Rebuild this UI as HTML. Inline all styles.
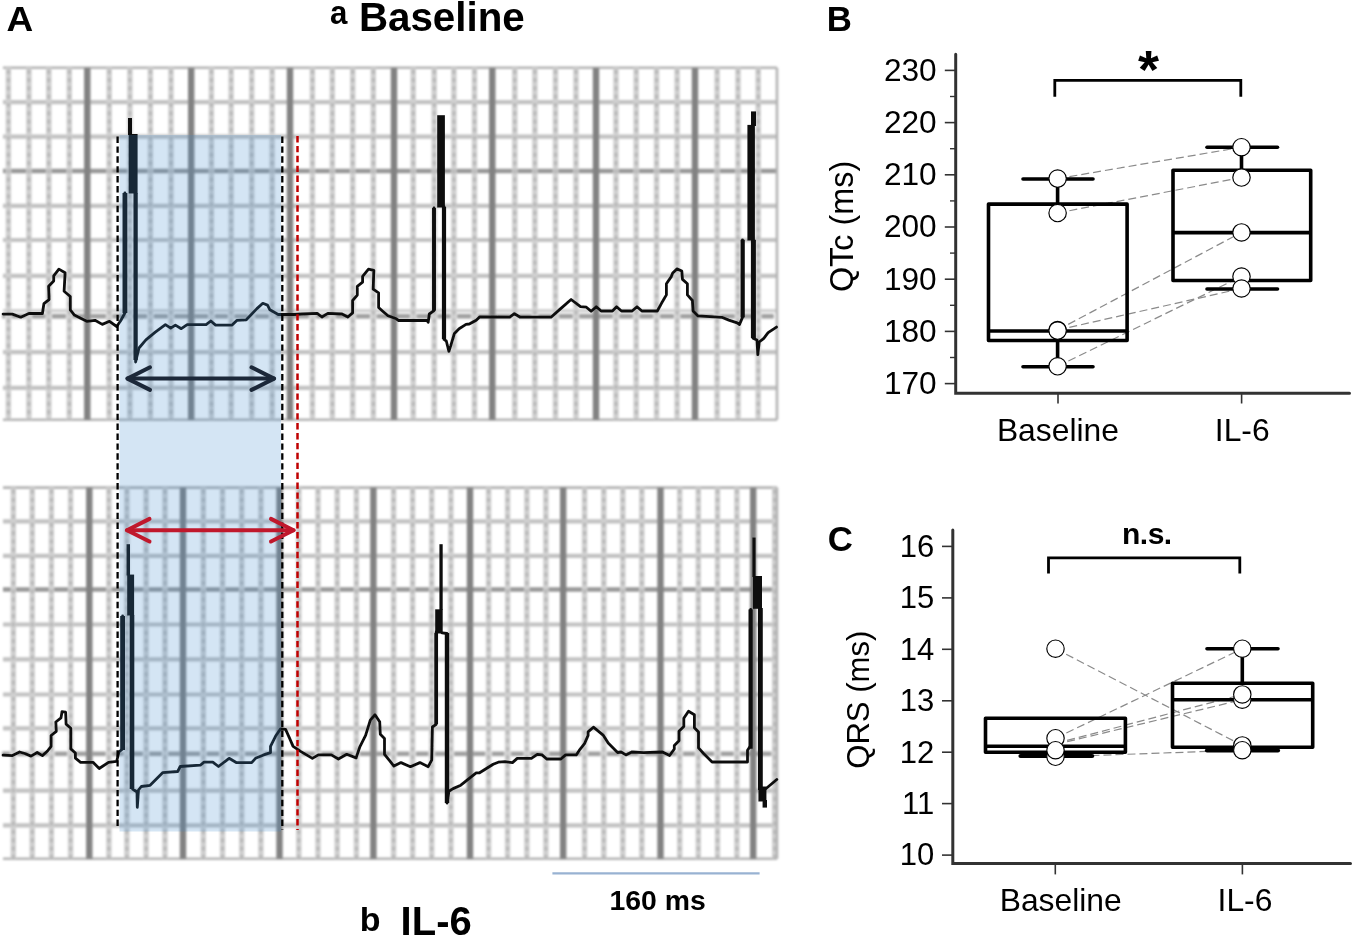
<!DOCTYPE html>
<html><head><meta charset="utf-8"><title>Figure</title><style>
html,body{margin:0;padding:0;background:#fff;}
body{width:1355px;height:938px;overflow:hidden;font-family:"Liberation Sans",sans-serif;}
svg{display:block;}
.gh{stroke:#c2c2c2;stroke-width:4.2;}
.ghl{stroke:#d2d2d2;stroke-width:3.6;}
.ghd{stroke:#989898;stroke-width:4.5;}
.gb{stroke:#a0a0a0;stroke-width:4.6;}
.ge{stroke:#b4b4b4;stroke-width:2.6;}
.gv{stroke:#d0d0d0;stroke-width:5.4;}
.gvd{stroke:#b9b9b9;stroke-width:3.4;stroke-dasharray:4.2 4.1;}
.gk{stroke:#828282;stroke-width:6.4;}
.tr{fill:none;stroke:#111;stroke-width:2.8;stroke-linejoin:round;stroke-linecap:round;}
</style></head>
<body>
<svg width="1355" height="938" viewBox="0 0 1355 938">
<defs><filter id="bl" x="-1%" y="-1%" width="102%" height="102%"><feGaussianBlur stdDeviation="1.3"/></filter>
<filter id="bl2" x="-1%" y="-1%" width="102%" height="102%"><feGaussianBlur stdDeviation="0.45"/></filter>
<filter id="sf" x="0" y="0" width="100%" height="100%" filterUnits="userSpaceOnUse"><feGaussianBlur stdDeviation="0.38"/></filter></defs>
<rect width="1355" height="938" fill="#fff"/>
<g filter="url(#bl)">
<line x1="3" y1="310.8" x2="777" y2="310.8" class="ghl"/>
<line x1="3" y1="102.1" x2="777" y2="102.1" class="gh"/>
<line x1="3" y1="136.6" x2="777" y2="136.6" class="gh"/>
<line x1="3" y1="205.9" x2="777" y2="205.9" class="gh"/>
<line x1="3" y1="240" x2="777" y2="240" class="gh"/>
<line x1="3" y1="275.8" x2="777" y2="275.8" class="gh"/>
<line x1="3" y1="352.2" x2="777" y2="352.2" class="gh"/>
<line x1="3" y1="387.8" x2="777" y2="387.8" class="gh"/>
<line x1="3" y1="171" x2="777" y2="171" class="ghd"/>
<line x1="2.2" y1="316.3" x2="5.2" y2="316.3" class="gb"/>
<line x1="11.6" y1="316.3" x2="25.7" y2="316.3" class="gb"/>
<line x1="32.1" y1="316.3" x2="45.6" y2="316.3" class="gb"/>
<line x1="52" y1="316.3" x2="66.1" y2="316.3" class="gb"/>
<line x1="72.5" y1="316.3" x2="84.1" y2="316.3" class="gb"/>
<line x1="90.5" y1="316.3" x2="106" y2="316.3" class="gb"/>
<line x1="112.4" y1="316.3" x2="126.7" y2="316.3" class="gb"/>
<line x1="133.1" y1="316.3" x2="147.2" y2="316.3" class="gb"/>
<line x1="153.6" y1="316.3" x2="167.8" y2="316.3" class="gb"/>
<line x1="174.2" y1="316.3" x2="188" y2="316.3" class="gb"/>
<line x1="194.4" y1="316.3" x2="208.2" y2="316.3" class="gb"/>
<line x1="214.6" y1="316.3" x2="227.9" y2="316.3" class="gb"/>
<line x1="234.3" y1="316.3" x2="248.5" y2="316.3" class="gb"/>
<line x1="254.9" y1="316.3" x2="268.9" y2="316.3" class="gb"/>
<line x1="275.3" y1="316.3" x2="286.8" y2="316.3" class="gb"/>
<line x1="293.2" y1="316.3" x2="309.2" y2="316.3" class="gb"/>
<line x1="315.6" y1="316.3" x2="329.1" y2="316.3" class="gb"/>
<line x1="335.5" y1="316.3" x2="349.5" y2="316.3" class="gb"/>
<line x1="355.9" y1="316.3" x2="370.1" y2="316.3" class="gb"/>
<line x1="376.5" y1="316.3" x2="390.8" y2="316.3" class="gb"/>
<line x1="397.2" y1="316.3" x2="410" y2="316.3" class="gb"/>
<line x1="416.4" y1="316.3" x2="431" y2="316.3" class="gb"/>
<line x1="437.4" y1="316.3" x2="450.7" y2="316.3" class="gb"/>
<line x1="457.1" y1="316.3" x2="471.3" y2="316.3" class="gb"/>
<line x1="477.7" y1="316.3" x2="489.1" y2="316.3" class="gb"/>
<line x1="495.5" y1="316.3" x2="511.6" y2="316.3" class="gb"/>
<line x1="518" y1="316.3" x2="531.7" y2="316.3" class="gb"/>
<line x1="538.1" y1="316.3" x2="552.3" y2="316.3" class="gb"/>
<line x1="558.7" y1="316.3" x2="572.8" y2="316.3" class="gb"/>
<line x1="579.2" y1="316.3" x2="592.8" y2="316.3" class="gb"/>
<line x1="599.2" y1="316.3" x2="612.8" y2="316.3" class="gb"/>
<line x1="619.2" y1="316.3" x2="633" y2="316.3" class="gb"/>
<line x1="639.4" y1="316.3" x2="653.4" y2="316.3" class="gb"/>
<line x1="659.8" y1="316.3" x2="673.9" y2="316.3" class="gb"/>
<line x1="680.3" y1="316.3" x2="691.8" y2="316.3" class="gb"/>
<line x1="698.2" y1="316.3" x2="713.9" y2="316.3" class="gb"/>
<line x1="720.3" y1="316.3" x2="734.8" y2="316.3" class="gb"/>
<line x1="741.2" y1="316.3" x2="755" y2="316.3" class="gb"/>
<line x1="761.4" y1="316.3" x2="773.8" y2="316.3" class="gb"/>
<line x1="3" y1="67.7" x2="777" y2="67.7" class="ge"/>
<line x1="3" y1="419.8" x2="777" y2="419.8" class="ge"/>
<line x1="8.4" y1="67.7" x2="8.4" y2="419.8" class="gv"/>
<line x1="8.4" y1="69.7" x2="8.4" y2="419.8" class="gvd"/>
<line x1="28.9" y1="67.7" x2="28.9" y2="419.8" class="gv"/>
<line x1="28.9" y1="69.7" x2="28.9" y2="419.8" class="gvd"/>
<line x1="48.8" y1="67.7" x2="48.8" y2="419.8" class="gv"/>
<line x1="48.8" y1="69.7" x2="48.8" y2="419.8" class="gvd"/>
<line x1="69.3" y1="67.7" x2="69.3" y2="419.8" class="gv"/>
<line x1="69.3" y1="69.7" x2="69.3" y2="419.8" class="gvd"/>
<line x1="109.2" y1="67.7" x2="109.2" y2="419.8" class="gv"/>
<line x1="109.2" y1="69.7" x2="109.2" y2="419.8" class="gvd"/>
<line x1="129.9" y1="67.7" x2="129.9" y2="419.8" class="gv"/>
<line x1="129.9" y1="69.7" x2="129.9" y2="419.8" class="gvd"/>
<line x1="150.4" y1="67.7" x2="150.4" y2="419.8" class="gv"/>
<line x1="150.4" y1="69.7" x2="150.4" y2="419.8" class="gvd"/>
<line x1="171" y1="67.7" x2="171" y2="419.8" class="gv"/>
<line x1="171" y1="69.7" x2="171" y2="419.8" class="gvd"/>
<line x1="211.4" y1="67.7" x2="211.4" y2="419.8" class="gv"/>
<line x1="211.4" y1="69.7" x2="211.4" y2="419.8" class="gvd"/>
<line x1="231.1" y1="67.7" x2="231.1" y2="419.8" class="gv"/>
<line x1="231.1" y1="69.7" x2="231.1" y2="419.8" class="gvd"/>
<line x1="251.7" y1="67.7" x2="251.7" y2="419.8" class="gv"/>
<line x1="251.7" y1="69.7" x2="251.7" y2="419.8" class="gvd"/>
<line x1="272.1" y1="67.7" x2="272.1" y2="419.8" class="gv"/>
<line x1="272.1" y1="69.7" x2="272.1" y2="419.8" class="gvd"/>
<line x1="312.4" y1="67.7" x2="312.4" y2="419.8" class="gv"/>
<line x1="312.4" y1="69.7" x2="312.4" y2="419.8" class="gvd"/>
<line x1="332.3" y1="67.7" x2="332.3" y2="419.8" class="gv"/>
<line x1="332.3" y1="69.7" x2="332.3" y2="419.8" class="gvd"/>
<line x1="352.7" y1="67.7" x2="352.7" y2="419.8" class="gv"/>
<line x1="352.7" y1="69.7" x2="352.7" y2="419.8" class="gvd"/>
<line x1="373.3" y1="67.7" x2="373.3" y2="419.8" class="gv"/>
<line x1="373.3" y1="69.7" x2="373.3" y2="419.8" class="gvd"/>
<line x1="413.2" y1="67.7" x2="413.2" y2="419.8" class="gv"/>
<line x1="413.2" y1="69.7" x2="413.2" y2="419.8" class="gvd"/>
<line x1="434.2" y1="67.7" x2="434.2" y2="419.8" class="gv"/>
<line x1="434.2" y1="69.7" x2="434.2" y2="419.8" class="gvd"/>
<line x1="453.9" y1="67.7" x2="453.9" y2="419.8" class="gv"/>
<line x1="453.9" y1="69.7" x2="453.9" y2="419.8" class="gvd"/>
<line x1="474.5" y1="67.7" x2="474.5" y2="419.8" class="gv"/>
<line x1="474.5" y1="69.7" x2="474.5" y2="419.8" class="gvd"/>
<line x1="514.8" y1="67.7" x2="514.8" y2="419.8" class="gv"/>
<line x1="514.8" y1="69.7" x2="514.8" y2="419.8" class="gvd"/>
<line x1="534.9" y1="67.7" x2="534.9" y2="419.8" class="gv"/>
<line x1="534.9" y1="69.7" x2="534.9" y2="419.8" class="gvd"/>
<line x1="555.5" y1="67.7" x2="555.5" y2="419.8" class="gv"/>
<line x1="555.5" y1="69.7" x2="555.5" y2="419.8" class="gvd"/>
<line x1="576" y1="67.7" x2="576" y2="419.8" class="gv"/>
<line x1="576" y1="69.7" x2="576" y2="419.8" class="gvd"/>
<line x1="616" y1="67.7" x2="616" y2="419.8" class="gv"/>
<line x1="616" y1="69.7" x2="616" y2="419.8" class="gvd"/>
<line x1="636.2" y1="67.7" x2="636.2" y2="419.8" class="gv"/>
<line x1="636.2" y1="69.7" x2="636.2" y2="419.8" class="gvd"/>
<line x1="656.6" y1="67.7" x2="656.6" y2="419.8" class="gv"/>
<line x1="656.6" y1="69.7" x2="656.6" y2="419.8" class="gvd"/>
<line x1="677.1" y1="67.7" x2="677.1" y2="419.8" class="gv"/>
<line x1="677.1" y1="69.7" x2="677.1" y2="419.8" class="gvd"/>
<line x1="717.1" y1="67.7" x2="717.1" y2="419.8" class="gv"/>
<line x1="717.1" y1="69.7" x2="717.1" y2="419.8" class="gvd"/>
<line x1="738" y1="67.7" x2="738" y2="419.8" class="gv"/>
<line x1="738" y1="69.7" x2="738" y2="419.8" class="gvd"/>
<line x1="758.2" y1="67.7" x2="758.2" y2="419.8" class="gv"/>
<line x1="758.2" y1="69.7" x2="758.2" y2="419.8" class="gvd"/>
<line x1="87.3" y1="67.7" x2="87.3" y2="419.8" class="gk"/>
<line x1="191.2" y1="67.7" x2="191.2" y2="419.8" class="gk"/>
<line x1="290" y1="67.7" x2="290" y2="419.8" class="gk"/>
<line x1="394" y1="67.7" x2="394" y2="419.8" class="gk"/>
<line x1="492.3" y1="67.7" x2="492.3" y2="419.8" class="gk"/>
<line x1="596" y1="67.7" x2="596" y2="419.8" class="gk"/>
<line x1="695" y1="67.7" x2="695" y2="419.8" class="gk"/>
<line x1="777" y1="67.7" x2="777" y2="419.8" class="ge"/>
<line x1="3" y1="521.3" x2="777" y2="521.3" class="gh"/>
<line x1="3" y1="555.8" x2="777" y2="555.8" class="gh"/>
<line x1="3" y1="624.5" x2="777" y2="624.5" class="gh"/>
<line x1="3" y1="659.4" x2="777" y2="659.4" class="gh"/>
<line x1="3" y1="694.5" x2="777" y2="694.5" class="gh"/>
<line x1="3" y1="728.4" x2="777" y2="728.4" class="gh"/>
<line x1="3" y1="790.7" x2="777" y2="790.7" class="gh"/>
<line x1="3" y1="825.4" x2="777" y2="825.4" class="gh"/>
<line x1="3" y1="589.4" x2="777" y2="589.4" class="ghd"/>
<line x1="2.2" y1="753.8" x2="10.1" y2="753.8" class="gb"/>
<line x1="16.5" y1="753.8" x2="29" y2="753.8" class="gb"/>
<line x1="35.4" y1="753.8" x2="48.2" y2="753.8" class="gb"/>
<line x1="54.6" y1="753.8" x2="67.4" y2="753.8" class="gb"/>
<line x1="73.8" y1="753.8" x2="86.1" y2="753.8" class="gb"/>
<line x1="92.5" y1="753.8" x2="105.7" y2="753.8" class="gb"/>
<line x1="112.1" y1="753.8" x2="123.7" y2="753.8" class="gb"/>
<line x1="130.1" y1="753.8" x2="142.9" y2="753.8" class="gb"/>
<line x1="149.3" y1="753.8" x2="161.8" y2="753.8" class="gb"/>
<line x1="168.2" y1="753.8" x2="179.8" y2="753.8" class="gb"/>
<line x1="186.2" y1="753.8" x2="200.1" y2="753.8" class="gb"/>
<line x1="206.5" y1="753.8" x2="219.3" y2="753.8" class="gb"/>
<line x1="225.7" y1="753.8" x2="238.5" y2="753.8" class="gb"/>
<line x1="244.9" y1="753.8" x2="257.7" y2="753.8" class="gb"/>
<line x1="264.1" y1="753.8" x2="276.3" y2="753.8" class="gb"/>
<line x1="282.7" y1="753.8" x2="295.6" y2="753.8" class="gb"/>
<line x1="302" y1="753.8" x2="314.8" y2="753.8" class="gb"/>
<line x1="321.2" y1="753.8" x2="334" y2="753.8" class="gb"/>
<line x1="340.4" y1="753.8" x2="353.2" y2="753.8" class="gb"/>
<line x1="359.6" y1="753.8" x2="370.2" y2="753.8" class="gb"/>
<line x1="376.6" y1="753.8" x2="390.4" y2="753.8" class="gb"/>
<line x1="396.8" y1="753.8" x2="409.4" y2="753.8" class="gb"/>
<line x1="415.8" y1="753.8" x2="428.5" y2="753.8" class="gb"/>
<line x1="434.9" y1="753.8" x2="447.7" y2="753.8" class="gb"/>
<line x1="454.1" y1="753.8" x2="466.8" y2="753.8" class="gb"/>
<line x1="473.2" y1="753.8" x2="485.4" y2="753.8" class="gb"/>
<line x1="491.8" y1="753.8" x2="504.4" y2="753.8" class="gb"/>
<line x1="510.8" y1="753.8" x2="523.7" y2="753.8" class="gb"/>
<line x1="530.1" y1="753.8" x2="542.7" y2="753.8" class="gb"/>
<line x1="549.1" y1="753.8" x2="560" y2="753.8" class="gb"/>
<line x1="566.4" y1="753.8" x2="581.4" y2="753.8" class="gb"/>
<line x1="587.8" y1="753.8" x2="600.6" y2="753.8" class="gb"/>
<line x1="607" y1="753.8" x2="619.6" y2="753.8" class="gb"/>
<line x1="626" y1="753.8" x2="638.6" y2="753.8" class="gb"/>
<line x1="645" y1="753.8" x2="657.3" y2="753.8" class="gb"/>
<line x1="663.7" y1="753.8" x2="676.5" y2="753.8" class="gb"/>
<line x1="682.9" y1="753.8" x2="695.1" y2="753.8" class="gb"/>
<line x1="701.5" y1="753.8" x2="714.3" y2="753.8" class="gb"/>
<line x1="720.7" y1="753.8" x2="733.7" y2="753.8" class="gb"/>
<line x1="740.1" y1="753.8" x2="750" y2="753.8" class="gb"/>
<line x1="756.4" y1="753.8" x2="771.5" y2="753.8" class="gb"/>
<line x1="777.9" y1="753.8" x2="773.8" y2="753.8" class="gb"/>
<line x1="3" y1="487.6" x2="777" y2="487.6" class="ge"/>
<line x1="3" y1="858.8" x2="777" y2="858.8" class="ge"/>
<line x1="13.3" y1="487.6" x2="13.3" y2="858.8" class="gv"/>
<line x1="13.3" y1="489.6" x2="13.3" y2="858.8" class="gvd"/>
<line x1="32.2" y1="487.6" x2="32.2" y2="858.8" class="gv"/>
<line x1="32.2" y1="489.6" x2="32.2" y2="858.8" class="gvd"/>
<line x1="51.4" y1="487.6" x2="51.4" y2="858.8" class="gv"/>
<line x1="51.4" y1="489.6" x2="51.4" y2="858.8" class="gvd"/>
<line x1="70.6" y1="487.6" x2="70.6" y2="858.8" class="gv"/>
<line x1="70.6" y1="489.6" x2="70.6" y2="858.8" class="gvd"/>
<line x1="108.9" y1="487.6" x2="108.9" y2="858.8" class="gv"/>
<line x1="108.9" y1="489.6" x2="108.9" y2="858.8" class="gvd"/>
<line x1="126.9" y1="487.6" x2="126.9" y2="858.8" class="gv"/>
<line x1="126.9" y1="489.6" x2="126.9" y2="858.8" class="gvd"/>
<line x1="146.1" y1="487.6" x2="146.1" y2="858.8" class="gv"/>
<line x1="146.1" y1="489.6" x2="146.1" y2="858.8" class="gvd"/>
<line x1="165" y1="487.6" x2="165" y2="858.8" class="gv"/>
<line x1="165" y1="489.6" x2="165" y2="858.8" class="gvd"/>
<line x1="203.3" y1="487.6" x2="203.3" y2="858.8" class="gv"/>
<line x1="203.3" y1="489.6" x2="203.3" y2="858.8" class="gvd"/>
<line x1="222.5" y1="487.6" x2="222.5" y2="858.8" class="gv"/>
<line x1="222.5" y1="489.6" x2="222.5" y2="858.8" class="gvd"/>
<line x1="241.7" y1="487.6" x2="241.7" y2="858.8" class="gv"/>
<line x1="241.7" y1="489.6" x2="241.7" y2="858.8" class="gvd"/>
<line x1="260.9" y1="487.6" x2="260.9" y2="858.8" class="gv"/>
<line x1="260.9" y1="489.6" x2="260.9" y2="858.8" class="gvd"/>
<line x1="298.8" y1="487.6" x2="298.8" y2="858.8" class="gv"/>
<line x1="298.8" y1="489.6" x2="298.8" y2="858.8" class="gvd"/>
<line x1="318" y1="487.6" x2="318" y2="858.8" class="gv"/>
<line x1="318" y1="489.6" x2="318" y2="858.8" class="gvd"/>
<line x1="337.2" y1="487.6" x2="337.2" y2="858.8" class="gv"/>
<line x1="337.2" y1="489.6" x2="337.2" y2="858.8" class="gvd"/>
<line x1="356.4" y1="487.6" x2="356.4" y2="858.8" class="gv"/>
<line x1="356.4" y1="489.6" x2="356.4" y2="858.8" class="gvd"/>
<line x1="393.6" y1="487.6" x2="393.6" y2="858.8" class="gv"/>
<line x1="393.6" y1="489.6" x2="393.6" y2="858.8" class="gvd"/>
<line x1="412.6" y1="487.6" x2="412.6" y2="858.8" class="gv"/>
<line x1="412.6" y1="489.6" x2="412.6" y2="858.8" class="gvd"/>
<line x1="431.7" y1="487.6" x2="431.7" y2="858.8" class="gv"/>
<line x1="431.7" y1="489.6" x2="431.7" y2="858.8" class="gvd"/>
<line x1="450.9" y1="487.6" x2="450.9" y2="858.8" class="gv"/>
<line x1="450.9" y1="489.6" x2="450.9" y2="858.8" class="gvd"/>
<line x1="488.6" y1="487.6" x2="488.6" y2="858.8" class="gv"/>
<line x1="488.6" y1="489.6" x2="488.6" y2="858.8" class="gvd"/>
<line x1="507.6" y1="487.6" x2="507.6" y2="858.8" class="gv"/>
<line x1="507.6" y1="489.6" x2="507.6" y2="858.8" class="gvd"/>
<line x1="526.9" y1="487.6" x2="526.9" y2="858.8" class="gv"/>
<line x1="526.9" y1="489.6" x2="526.9" y2="858.8" class="gvd"/>
<line x1="545.9" y1="487.6" x2="545.9" y2="858.8" class="gv"/>
<line x1="545.9" y1="489.6" x2="545.9" y2="858.8" class="gvd"/>
<line x1="584.6" y1="487.6" x2="584.6" y2="858.8" class="gv"/>
<line x1="584.6" y1="489.6" x2="584.6" y2="858.8" class="gvd"/>
<line x1="603.8" y1="487.6" x2="603.8" y2="858.8" class="gv"/>
<line x1="603.8" y1="489.6" x2="603.8" y2="858.8" class="gvd"/>
<line x1="622.8" y1="487.6" x2="622.8" y2="858.8" class="gv"/>
<line x1="622.8" y1="489.6" x2="622.8" y2="858.8" class="gvd"/>
<line x1="641.8" y1="487.6" x2="641.8" y2="858.8" class="gv"/>
<line x1="641.8" y1="489.6" x2="641.8" y2="858.8" class="gvd"/>
<line x1="679.7" y1="487.6" x2="679.7" y2="858.8" class="gv"/>
<line x1="679.7" y1="489.6" x2="679.7" y2="858.8" class="gvd"/>
<line x1="698.3" y1="487.6" x2="698.3" y2="858.8" class="gv"/>
<line x1="698.3" y1="489.6" x2="698.3" y2="858.8" class="gvd"/>
<line x1="717.5" y1="487.6" x2="717.5" y2="858.8" class="gv"/>
<line x1="717.5" y1="489.6" x2="717.5" y2="858.8" class="gvd"/>
<line x1="736.9" y1="487.6" x2="736.9" y2="858.8" class="gv"/>
<line x1="736.9" y1="489.6" x2="736.9" y2="858.8" class="gvd"/>
<line x1="774.7" y1="487.6" x2="774.7" y2="858.8" class="gv"/>
<line x1="774.7" y1="489.6" x2="774.7" y2="858.8" class="gvd"/>
<line x1="89.3" y1="487.6" x2="89.3" y2="858.8" class="gk"/>
<line x1="183" y1="487.6" x2="183" y2="858.8" class="gk"/>
<line x1="279.5" y1="487.6" x2="279.5" y2="858.8" class="gk"/>
<line x1="373.4" y1="487.6" x2="373.4" y2="858.8" class="gk"/>
<line x1="470" y1="487.6" x2="470" y2="858.8" class="gk"/>
<line x1="563.2" y1="487.6" x2="563.2" y2="858.8" class="gk"/>
<line x1="660.5" y1="487.6" x2="660.5" y2="858.8" class="gk"/>
<line x1="753.2" y1="487.6" x2="753.2" y2="858.8" class="gk"/>
<line x1="777" y1="487.6" x2="777" y2="858.8" class="ge"/>
</g>
<g filter="url(#bl2)">
<line x1="124.9" y1="193" x2="124.9" y2="313" stroke="#111" stroke-width="4.8"/>
<line x1="135.6" y1="193" x2="135.6" y2="360" stroke="#111" stroke-width="4.3"/>
<line x1="434" y1="208" x2="434" y2="310.6" stroke="#111" stroke-width="3.9"/>
<line x1="444" y1="206.7" x2="444" y2="339" stroke="#111" stroke-width="4.2"/>
<line x1="742.7" y1="239.8" x2="742.7" y2="317.4" stroke="#111" stroke-width="4.2"/>
<line x1="753.4" y1="239.8" x2="753.4" y2="338" stroke="#111" stroke-width="5"/>
<polyline points="3.1,314.1 12.4,314.1 20.7,317.2 28.9,313.5 42.4,313.5 43.9,303.7 49.1,299.6 48.6,286.2 53.7,281 53.7,275.8 58.9,269.1 65.1,272.7 64.1,291.3 70.3,296.5 70.3,309.9 74.4,315.1 80.6,318.2 86.8,321.3 95,320.3 102.3,324.4 109.5,321.3 116.7,326.5 120.5,321 124.9,313 124.9,193" class="tr"/>
<polyline points="135.6,193 135.6,362 139,348 145.9,339.9 155.3,332.2 165.4,324.6 170.7,328.1 175.4,325.1 181.3,328.7 187.2,324.6 206.1,324.6 210.8,321 215.6,325.1 232.1,325.1 236.8,320.4 246.3,319.8 256.9,308.6 262.8,303.3 267.5,305.1 269.9,309.8 278.2,314.5 293.5,314.5 301.8,314 317.2,313.4 321.9,317 327.8,313.4 342,314 347.9,317 352.6,312.9 352.6,300.5 357.3,295.1 357.3,286.3 362.6,282.2 362.6,276.3 368.5,269.2 373.8,270.4 373.2,289.2 378.6,292.8 378.6,307.5 383.3,311.7 388,315.8 396.3,318.8 398.6,320.5 427,320.5 428.2,322.3 429.3,314 434,310.6 434,208" class="tr"/>
<polyline points="444,206.7 444,339.4 446.3,341 448.9,351.3 450.6,346.1 454.4,333.4 459.1,328.7 466,324.4 469.3,324 476.2,320.2 479.6,316.9 509.7,317.2 514.4,313.7 520.3,317.2 551,317.2 560.4,308.9 571.1,299.5 580.5,306.6 586.4,307.2 591.1,311.3 596.3,306.8 601.2,311 612.4,311 616.6,306.8 621.5,311 632.1,311 637,306.8 641.9,311 657.3,311 661.5,303.3 666.4,294.9 666.4,283.7 671.3,276.6 672.7,273.1 676.9,268.9 681.8,271 682.5,279.4 687.4,283.7 687.4,294.9 692.4,300.5 693.1,311 698,315.9 721.8,317.3 728.8,320.1 737.2,322.9 739.5,324.5 742.5,317.4 742.5,239.8" class="tr"/>
<polyline points="753,239.8 753,338.3 757,340 757.8,354.7 759.2,342 763.8,338.3 768.1,332.7 776.5,327.1" class="tr"/>
<rect x="128" y="118" width="4" height="17" fill="#111"/>
<rect x="128.7" y="134" width="8.9" height="59.5" fill="#111"/>
<rect x="437.2" y="115.2" width="7.7" height="92.3" fill="#111"/>
<rect x="751" y="111.4" width="5" height="14.6" fill="#111"/>
<rect x="747.4" y="124.9" width="7.5" height="115.6" fill="#111"/>
<line x1="122.6" y1="616" x2="122.6" y2="750" stroke="#111" stroke-width="4.8"/>
<line x1="132" y1="615" x2="132" y2="789" stroke="#111" stroke-width="4.6"/>
<line x1="436.2" y1="633" x2="436.2" y2="724" stroke="#111" stroke-width="3.7"/>
<line x1="447" y1="633" x2="447" y2="803" stroke="#111" stroke-width="4.4"/>
<line x1="750.6" y1="609.5" x2="750.6" y2="748.7" stroke="#111" stroke-width="4.2"/>
<line x1="760.4" y1="608" x2="760.4" y2="790" stroke="#111" stroke-width="4.8"/>
<polyline points="3.1,755.1 12.4,755.6 19.6,752 24.8,753.5 31,756.1 37.2,752.5 42.4,755.6 47.5,751 51.1,746.3 51.1,735.5 56.3,731.3 55.8,722 61,717.9 62,711.7 65.6,712.2 66.1,724.1 70.8,728.2 70.8,748.9 75.4,753 75.4,758.2 80.6,762.3 93,762.3 99.2,768.5 108.5,762.3 116.7,761.3 118.9,752 122.6,749 122.6,616" class="tr"/>
<polyline points="131.8,614.8 132.6,789 137,792 137.3,807.3 138.5,790 141.3,786.5 150.1,785.3 160.1,775.2 162.6,772.7 177.7,771.5 180.2,766.5 200.3,765.2 204,762.1 212.8,762.1 218.5,766.5 229.1,758.3 236.6,762.7 251.7,762.7 255.5,758.3 263,755.2 270.5,752.7 270.5,746.4 275.5,736.3 280.6,728.8 285.6,729.4 289.3,737.6 293.1,746.4 300.6,751.4 312.4,758.4 318.3,754.9 331.3,754.9 338.4,759 346.7,754.3 356.1,757.9 359.7,747.2 365.6,735.4 370.3,720.1 375,714.8 379.7,721.8 380.3,734.2 384.5,738.4 384.5,754.3 389.2,760.2 393.9,766.1 401,762.6 410.4,766.7 419.9,762.6 428.2,766.7 431.7,760.2 432.4,727 436.2,724.3 436.2,632" class="tr"/>
<polyline points="442,632.8 447,633.5 447,803 448.9,791.2 453.1,788.6 460.8,785.2 469.3,778.4 476.2,772.8 479.6,772.8 493.2,764.3 498.3,762.2 505,761.7 512.5,762.6 517.2,758.4 531.4,758.4 537.3,754.3 542,754.9 546.7,759 560.9,759 565.6,754.9 576.3,754.9 579.8,749.6 584.5,743.7 588.1,735.4 588.1,731.9 593.4,727.2 603.4,735.4 608.2,743.1 617.6,752.5 621.1,752 625.9,754.9 631.8,752 643.6,752.6 662.5,752 669.6,755.5 674.3,749 674.3,745.5 679,740.8 679,731.3 683.8,726.6 683.8,718.3 688.5,711.3 694.4,714.8 694.4,727.8 698.5,731.9 698.5,747.9 703.8,753.8 712.1,762 747.5,762 747.5,750.2 750.7,745.5 750.7,609.5" class="tr"/>
<polyline points="760.4,608 760.4,788 765.5,789 776.8,779.5" class="tr"/>
<rect x="126.6" y="544.2" width="3.4" height="31.3" fill="#111"/>
<rect x="127.2" y="574.6" width="6.9" height="40.9" fill="#111"/>
<rect x="439.4" y="544.2" width="3.3" height="65.8" fill="#111"/>
<rect x="435.2" y="609.3" width="7.5" height="24.2" fill="#111"/>
<rect x="752.4" y="537.6" width="3.2" height="39.4" fill="#111"/>
<rect x="753" y="576" width="9" height="32.8" fill="#111"/>
<rect x="758.4" y="786.5" width="8" height="15" fill="#111"/>
<rect x="762.6" y="800" width="4.4" height="7.6" fill="#111"/>
</g>
<rect x="119.5" y="135" width="161.5" height="696.5" fill="rgb(60,135,205)" fill-opacity="0.22"/>
<line x1="117.6" y1="136.5" x2="117.6" y2="828" stroke="#000" stroke-width="2.3" stroke-dasharray="6.4 3.5"/>
<line x1="282.3" y1="136.5" x2="282.3" y2="830" stroke="#000" stroke-width="2.3" stroke-dasharray="6.4 3.5"/>
<line x1="297.5" y1="136" x2="297.5" y2="830" stroke="#c00000" stroke-width="2.5" stroke-dasharray="6.4 3.5"/>
<g stroke="#1c2839" stroke-width="4" stroke-linecap="round" stroke-linejoin="round" fill="none"><line x1="127.5" y1="378.6" x2="274" y2="378.6"/><polyline points="150,367.3 127.5,378.6 150,389.9"/><polyline points="251.5,367.3 274,378.6 251.5,389.9"/></g>
<g stroke="#c0182c" stroke-width="4" stroke-linecap="round" stroke-linejoin="round" fill="none"><line x1="127" y1="530.2" x2="293.5" y2="530.2"/><polyline points="149.5,518.9 127,530.2 149.5,541.5"/><polyline points="271,518.9 293.5,530.2 271,541.5"/></g>
<line x1="552.4" y1="873.3" x2="759.6" y2="873.3" stroke="#98b2d2" stroke-width="2.2"/>
<g filter="url(#sf)">
<text x="6.5" y="30.6" font-family="Liberation Sans, sans-serif" font-weight="bold" font-size="35.2" transform="translate(6.5,0) scale(1.05,1) translate(-6.5,0)">A</text>
<text x="329.8" y="24.4" font-family="Liberation Sans, sans-serif" font-weight="bold" font-size="34" transform="translate(331,0) scale(0.92,1) translate(-331,0)">a</text>
<text x="358.9" y="30.8" font-family="Liberation Sans, sans-serif" font-weight="bold" font-size="40.35">Baseline</text>
<text x="359.8" y="931" font-family="Liberation Sans, sans-serif" font-weight="bold" font-size="34">b</text>
<text x="400.6" y="934.9" font-family="Liberation Sans, sans-serif" font-weight="bold" font-size="40">IL-6</text>
<text x="609.5" y="909.6" font-family="Liberation Sans, sans-serif" font-weight="bold" font-size="28.4">160 ms</text>
<text x="826.7" y="30.5" font-family="Liberation Sans, sans-serif" font-weight="bold" font-size="34.8">B</text>
<text x="827.7" y="551" font-family="Liberation Sans, sans-serif" font-weight="bold" font-size="34.8">C</text>
<path d="M955.7,54.2 V393.2 H1349.5" stroke="#333" stroke-width="3" fill="none" stroke-linecap="round"/>
<line x1="944.8" y1="70.4" x2="955.7" y2="70.4" stroke="#333" stroke-width="1.6"/>
<text x="936.7" y="80.7" font-family="Liberation Sans, sans-serif" font-size="31.6" text-anchor="end">230</text>
<line x1="950" y1="96.5" x2="955.7" y2="96.5" stroke="#333" stroke-width="1.4"/>
<line x1="944.8" y1="122.6" x2="955.7" y2="122.6" stroke="#333" stroke-width="1.6"/>
<text x="936.7" y="132.9" font-family="Liberation Sans, sans-serif" font-size="31.6" text-anchor="end">220</text>
<line x1="950" y1="148.7" x2="955.7" y2="148.7" stroke="#333" stroke-width="1.4"/>
<line x1="944.8" y1="174.8" x2="955.7" y2="174.8" stroke="#333" stroke-width="1.6"/>
<text x="936.7" y="185.1" font-family="Liberation Sans, sans-serif" font-size="31.6" text-anchor="end">210</text>
<line x1="950" y1="200.9" x2="955.7" y2="200.9" stroke="#333" stroke-width="1.4"/>
<line x1="944.8" y1="227" x2="955.7" y2="227" stroke="#333" stroke-width="1.6"/>
<text x="936.7" y="237.3" font-family="Liberation Sans, sans-serif" font-size="31.6" text-anchor="end">200</text>
<line x1="950" y1="253.1" x2="955.7" y2="253.1" stroke="#333" stroke-width="1.4"/>
<line x1="944.8" y1="279.2" x2="955.7" y2="279.2" stroke="#333" stroke-width="1.6"/>
<text x="936.7" y="289.5" font-family="Liberation Sans, sans-serif" font-size="31.6" text-anchor="end">190</text>
<line x1="950" y1="305.3" x2="955.7" y2="305.3" stroke="#333" stroke-width="1.4"/>
<line x1="944.8" y1="331.4" x2="955.7" y2="331.4" stroke="#333" stroke-width="1.6"/>
<text x="936.7" y="341.7" font-family="Liberation Sans, sans-serif" font-size="31.6" text-anchor="end">180</text>
<line x1="950" y1="357.5" x2="955.7" y2="357.5" stroke="#333" stroke-width="1.4"/>
<line x1="944.8" y1="383.6" x2="955.7" y2="383.6" stroke="#333" stroke-width="1.6"/>
<text x="936.7" y="393.9" font-family="Liberation Sans, sans-serif" font-size="31.6" text-anchor="end">170</text>
<line x1="1058" y1="393" x2="1058" y2="403.5" stroke="#333" stroke-width="1.6"/>
<line x1="1241.6" y1="393" x2="1241.6" y2="403.5" stroke="#333" stroke-width="1.6"/>
<text x="1057.9" y="440.9" font-family="Liberation Sans, sans-serif" font-size="31.8" text-anchor="middle">Baseline</text>
<text x="1242.2" y="440.9" font-family="Liberation Sans, sans-serif" font-size="31.8" text-anchor="middle">IL-6</text>
<text transform="translate(852.6,226.4) rotate(-90)" x="0" y="0" font-family="Liberation Sans, sans-serif" font-size="32.4" text-anchor="middle">QTc (ms)</text>
<line x1="1057.6" y1="178.6" x2="1241.5" y2="147.2" stroke="#8a8a8a" stroke-width="1.2" stroke-dasharray="8 4" fill="none"/>
<line x1="1057.6" y1="213" x2="1241.5" y2="177.5" stroke="#8a8a8a" stroke-width="1.2" stroke-dasharray="8 4" fill="none"/>
<line x1="1057.6" y1="330" x2="1241.5" y2="232.4" stroke="#8a8a8a" stroke-width="1.2" stroke-dasharray="8 4" fill="none"/>
<line x1="1057.6" y1="330" x2="1241.5" y2="288.5" stroke="#8a8a8a" stroke-width="1.2" stroke-dasharray="8 4" fill="none"/>
<line x1="1057.6" y1="366.3" x2="1241.5" y2="276.5" stroke="#8a8a8a" stroke-width="1.2" stroke-dasharray="8 4" fill="none"/>
<rect x="988.5" y="204.1" width="138.6" height="136.4" stroke="#000" stroke-width="3.6" fill="none" stroke-linejoin="round"/>
<line x1="988.5" y1="331" x2="1127.1" y2="331" stroke="#000" stroke-width="3.6" fill="none" stroke-linejoin="round"/>
<line x1="1057.6" y1="179" x2="1057.6" y2="204.1" stroke="#000" stroke-width="3.6" fill="none" stroke-linejoin="round"/>
<line x1="1057.6" y1="340.5" x2="1057.6" y2="366.7" stroke="#000" stroke-width="3.6" fill="none" stroke-linejoin="round"/>
<line x1="1023" y1="179" x2="1093" y2="179" stroke="#000" stroke-width="3.6" fill="none" stroke-linejoin="round" stroke-linecap="round"/>
<line x1="1023" y1="366.7" x2="1093" y2="366.7" stroke="#000" stroke-width="3.6" fill="none" stroke-linejoin="round" stroke-linecap="round"/>
<rect x="1173" y="170.2" width="137.7" height="110.3" stroke="#000" stroke-width="3.6" fill="none" stroke-linejoin="round"/>
<line x1="1173" y1="232.6" x2="1310.7" y2="232.6" stroke="#000" stroke-width="3.6" fill="none" stroke-linejoin="round"/>
<line x1="1241.5" y1="147.2" x2="1241.5" y2="170.2" stroke="#000" stroke-width="3.6" fill="none" stroke-linejoin="round"/>
<line x1="1241.5" y1="280.5" x2="1241.5" y2="289" stroke="#000" stroke-width="3.6" fill="none" stroke-linejoin="round"/>
<line x1="1207" y1="147.2" x2="1277.5" y2="147.2" stroke="#000" stroke-width="3.6" fill="none" stroke-linejoin="round" stroke-linecap="round"/>
<line x1="1207" y1="289" x2="1277.5" y2="289" stroke="#000" stroke-width="3.6" fill="none" stroke-linejoin="round" stroke-linecap="round"/>
<circle cx="1057.6" cy="178.6" r="8.7" fill="#fff" stroke="#000" stroke-width="1.15"/>
<circle cx="1057.6" cy="213" r="8.7" fill="#fff" stroke="#000" stroke-width="1.15"/>
<circle cx="1057.6" cy="330.1" r="8.7" fill="#fff" stroke="#000" stroke-width="1.15"/>
<circle cx="1057.6" cy="330.6" r="8.7" fill="#fff" stroke="#000" stroke-width="1.15"/>
<circle cx="1057.6" cy="366.3" r="8.7" fill="#fff" stroke="#000" stroke-width="1.15"/>
<circle cx="1241.5" cy="147.2" r="8.7" fill="#fff" stroke="#000" stroke-width="1.15"/>
<circle cx="1241.5" cy="177.5" r="8.7" fill="#fff" stroke="#000" stroke-width="1.15"/>
<circle cx="1241.5" cy="232.4" r="8.7" fill="#fff" stroke="#000" stroke-width="1.15"/>
<circle cx="1241.5" cy="276.5" r="8.7" fill="#fff" stroke="#000" stroke-width="1.15"/>
<circle cx="1241.5" cy="288.5" r="8.7" fill="#fff" stroke="#000" stroke-width="1.15"/>
<path d="M1054.8,96.7 V80.4 H1240.8 V96.7" stroke="#000" stroke-width="2.8" fill="none"/>
<text x="1148.6" y="88" font-family="Liberation Sans, sans-serif" font-weight="bold" font-size="54" text-anchor="middle">*</text>
<path d="M952.8,530 V863.5 H1350.5" stroke="#333" stroke-width="3" fill="none" stroke-linecap="round"/>
<line x1="942" y1="546.4" x2="952.8" y2="546.4" stroke="#333" stroke-width="1.6"/>
<text x="934.2" y="556.7" font-family="Liberation Sans, sans-serif" font-size="31" text-anchor="end">16</text>
<line x1="942" y1="597.9" x2="952.8" y2="597.9" stroke="#333" stroke-width="1.6"/>
<text x="934.2" y="608.1" font-family="Liberation Sans, sans-serif" font-size="31" text-anchor="end">15</text>
<line x1="942" y1="649.3" x2="952.8" y2="649.3" stroke="#333" stroke-width="1.6"/>
<text x="934.2" y="659.6" font-family="Liberation Sans, sans-serif" font-size="31" text-anchor="end">14</text>
<line x1="942" y1="700.8" x2="952.8" y2="700.8" stroke="#333" stroke-width="1.6"/>
<text x="934.2" y="711" font-family="Liberation Sans, sans-serif" font-size="31" text-anchor="end">13</text>
<line x1="942" y1="752.2" x2="952.8" y2="752.2" stroke="#333" stroke-width="1.6"/>
<text x="934.2" y="762.5" font-family="Liberation Sans, sans-serif" font-size="31" text-anchor="end">12</text>
<line x1="942" y1="803.6" x2="952.8" y2="803.6" stroke="#333" stroke-width="1.6"/>
<text x="934.2" y="813.9" font-family="Liberation Sans, sans-serif" font-size="31" text-anchor="end">11</text>
<line x1="942" y1="855.1" x2="952.8" y2="855.1" stroke="#333" stroke-width="1.6"/>
<text x="934.2" y="865.4" font-family="Liberation Sans, sans-serif" font-size="31" text-anchor="end">10</text>
<line x1="1055.3" y1="863.5" x2="1055.3" y2="874.4" stroke="#333" stroke-width="1.6"/>
<line x1="1242.4" y1="863.5" x2="1242.4" y2="874.4" stroke="#333" stroke-width="1.6"/>
<text x="1060.7" y="910.9" font-family="Liberation Sans, sans-serif" font-size="31.8" text-anchor="middle">Baseline</text>
<text x="1245" y="910.9" font-family="Liberation Sans, sans-serif" font-size="31.8" text-anchor="middle">IL-6</text>
<text transform="translate(868.6,699.7) rotate(-90)" x="0" y="0" font-family="Liberation Sans, sans-serif" font-size="31.1" text-anchor="middle">QRS (ms)</text>
<line x1="1055.5" y1="648.7" x2="1242.3" y2="745.4" stroke="#8a8a8a" stroke-width="1.2" stroke-dasharray="8 4" fill="none"/>
<line x1="1055.5" y1="738.2" x2="1242.3" y2="648.7" stroke="#8a8a8a" stroke-width="1.2" stroke-dasharray="8 4" fill="none"/>
<line x1="1055.5" y1="743.5" x2="1242.3" y2="694.4" stroke="#8a8a8a" stroke-width="1.2" stroke-dasharray="8 4" fill="none"/>
<line x1="1055.5" y1="744.5" x2="1242.3" y2="699.7" stroke="#8a8a8a" stroke-width="1.2" stroke-dasharray="8 4" fill="none"/>
<line x1="1055.5" y1="756.8" x2="1242.3" y2="750.2" stroke="#8a8a8a" stroke-width="1.2" stroke-dasharray="8 4" fill="none"/>
<rect x="985.5" y="718.3" width="139.9" height="34" stroke="#000" stroke-width="3.6" fill="none" stroke-linejoin="round"/>
<line x1="985.5" y1="746.2" x2="1125.4" y2="746.2" stroke="#000" stroke-width="3.6" fill="none" stroke-linejoin="round"/>
<line x1="1020.5" y1="756" x2="1092.2" y2="756" stroke="#000" stroke-width="4.2" stroke-linecap="round"/>
<rect x="1172.5" y="683.3" width="140.2" height="64" stroke="#000" stroke-width="3.6" fill="none" stroke-linejoin="round"/>
<line x1="1172.5" y1="699.7" x2="1312.7" y2="699.7" stroke="#000" stroke-width="3.6" fill="none" stroke-linejoin="round"/>
<line x1="1242.3" y1="648.7" x2="1242.3" y2="683.3" stroke="#000" stroke-width="3.6" fill="none" stroke-linejoin="round"/>
<line x1="1207" y1="648.7" x2="1278" y2="648.7" stroke="#000" stroke-width="3.6" fill="none" stroke-linejoin="round" stroke-linecap="round"/>
<line x1="1207" y1="750.5" x2="1278" y2="750.5" stroke="#000" stroke-width="4.2" stroke-linecap="round"/>
<circle cx="1055.5" cy="648.7" r="8.7" fill="#fff" stroke="#000" stroke-width="1.15"/>
<circle cx="1055.5" cy="738.2" r="8.7" fill="#fff" stroke="#000" stroke-width="1.15"/>
<circle cx="1055.5" cy="756.8" r="8.7" fill="#fff" stroke="#000" stroke-width="1.15"/>
<circle cx="1055.5" cy="750.2" r="8.7" fill="#fff" stroke="#000" stroke-width="1.15"/>
<circle cx="1242.3" cy="648.7" r="8.7" fill="#fff" stroke="#000" stroke-width="1.15"/>
<circle cx="1242.3" cy="699.7" r="8.7" fill="#fff" stroke="#000" stroke-width="1.15"/>
<circle cx="1242.3" cy="694.4" r="8.7" fill="#fff" stroke="#000" stroke-width="1.15"/>
<circle cx="1242.3" cy="745.4" r="8.7" fill="#fff" stroke="#000" stroke-width="1.15"/>
<circle cx="1242.3" cy="750.2" r="8.7" fill="#fff" stroke="#000" stroke-width="1.15"/>
<path d="M1048.5,573.6 V557.8 H1239.8 V573.6" stroke="#000" stroke-width="2.8" fill="none"/>
<text x="1122" y="543.9" font-family="Liberation Sans, sans-serif" font-weight="bold" font-size="30" letter-spacing="-0.5">n.s.</text>
</g>
</svg>
</body></html>
